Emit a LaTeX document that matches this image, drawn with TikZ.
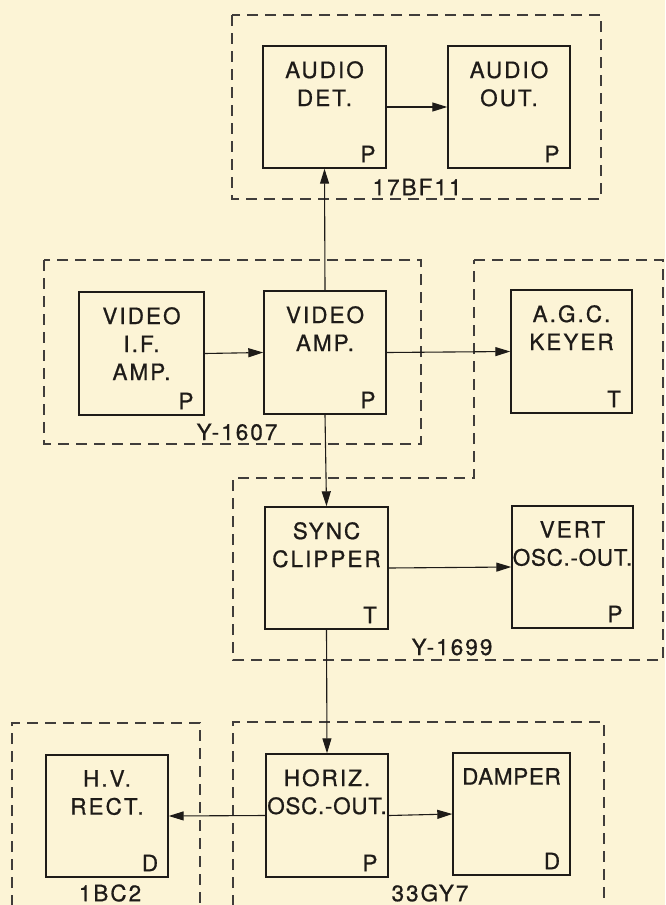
\documentclass[tikz,border=0pt]{standalone}
\usepackage{fontspec}
\setmainfont{TeX Gyre Heros}[LetterSpace=9, FakeBold=0.8]
\newfontfamily\tightfont{TeX Gyre Heros}[LetterSpace=3, FakeBold=0.8]
\usetikzlibrary{arrows.meta}
\definecolor{paper}{RGB}{252,244,214}
\definecolor{ink}{RGB}{30,27,24}
\tikzset{
  blk/.style={draw=ink, line width=1.4pt, inner sep=0pt},
  txt/.style={text=ink, inner sep=0pt, align=center},
  grp/.style={draw=ink!85, line width=1.1pt, dash pattern=on 11pt off 7pt},
  flow/.style={draw=ink, line width=1.1pt, -{Triangle[length=15pt,width=9pt]}}
}
\newcommand\mkblock[7]{%
  \node[blk, minimum width={#4-#2}, minimum height={#5-#3}] (#1) at ({(#2+#4)/2},{(#3+#5)/2}) {};
  \node[txt, anchor=north] (#1-t) at ({(#2+#4)/2},{#3+15}) {#6};
  \node[txt] (#1-k) at ({#4-18},{#5-14}) {#7};}
\begin{document}
\begin{tikzpicture}[x=1pt, y=-1pt, font=\fontsize{22.5}{28}\selectfont]
\fill[paper] (0,0) rectangle (665,905);
\useasboundingbox (0,0) rectangle (665,905);

% group outlines
\draw[grp] (232,15) rectangle (601,199);
\draw[grp] (44,260) rectangle (421,444);
\draw[grp] (474,260) -- (663,260) -- (663,660) -- (233,660) -- (233,478) -- (474,478) -- cycle;
\draw[grp] (12,906) -- (12,723) -- (200,723) -- (200,906);
\draw[grp] (233,906) -- (233,722) -- (604,722) -- (604,906);

% blocks
\mkblock{adet}{263}{46}{386}{168}{AUDIO\\DET.}{P}
\mkblock{aout}{448}{46}{570}{168}{AUDIO\\OUT.}{P}
\mkblock{vif}{79}{292}{204}{415}{VIDEO\\I.F.\\AMP.}{P}
\mkblock{vamp}{264}{291}{386}{414}{VIDEO\\AMP.}{P}
\mkblock{agc}{511}{290}{632}{413}{A.G.C.\\KEYER}{T}
\mkblock{sync}{265}{507}{388}{629}{SYNC\\CLIPPER}{T}
\mkblock{vert}{512}{506}{633}{628}{VERT\\{\tightfont OSC.-OUT.}}{P}
\mkblock{hv}{46}{755}{168}{877}{H.V.\\RECT.}{D}
\mkblock{horiz}{266}{754}{388}{877}{HORIZ.\\{\tightfont OSC.-OUT.}}{P}
\mkblock{damp}{453}{753}{570}{875}{{\tightfont DAMPER}}{D}

% tube labels
\node[txt] (l1) at (417,187) {17BF11};
\node[txt] (l2) at (237,432) {Y-1607};
\node[txt] (l3) at (452,647) {Y-1699};
\node[txt] (l4) at (110,893) {1BC2};
\node[txt] (l5) at (430,893) {33GY7};

% connectors
\draw[flow] (adet.east) -- (aout.west);
\draw[flow] (vamp.north) -- (adet.south);
\draw[flow] (vif.east) -- (vamp.west);
\draw[flow] (vamp.east) -- (agc.west);
\draw[flow] (vamp.south) -- (sync.north);
\draw[flow] (sync.east) -- (vert.west);
\draw[flow] (sync.south) -- (horiz.north);
\draw[flow] (horiz.west) -- (hv.east);
\draw[flow] (horiz.east) -- (damp.west);
\end{tikzpicture}
\end{document}
